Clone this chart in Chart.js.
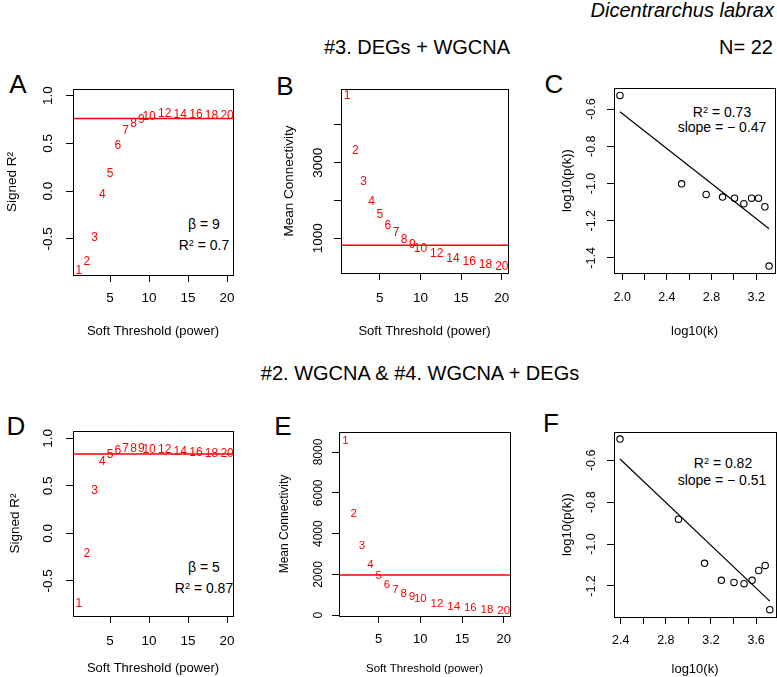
<!DOCTYPE html>
<html>
<head>
<meta charset="utf-8">
<script src="https://cdn.jsdelivr.net/npm/chart.js@4.4.1/dist/chart.umd.min.js"></script>
<style>
  body { margin: 0; background: #fff; }
  #fig { position: relative; width: 777px; height: 677px; overflow: hidden; background: #fff;
         font-family: 'Liberation Sans', Arial, sans-serif; color: #000; }
  #fig canvas { position: absolute; }
  .c { position: absolute; white-space: nowrap; line-height: 1; transform: translate(-50%, -50%); }
  .r { position: absolute; white-space: nowrap; line-height: 1; transform: translateY(-50%); }
  sup { font-size: 0.65em; vertical-align: 0.45em; line-height: 0; }
</style>
</head>
<body>
<div id="fig">
  <div class="r" style="right:3px;top:10px;font-size:20px;font-style:italic">Dicentrarchus labrax</div>
  <div class="c" style="left:417px;top:47px;font-size:20px">#3. DEGs + WGCNA</div>
  <div class="r" style="right:4px;top:47px;font-size:20px">N= 22</div>
  <div class="c" style="left:420px;top:373px;font-size:20px">#2. WGCNA &amp; #4. WGCNA + DEGs</div>

  <div class="c" style="left:18px;top:84px;font-size:26px">A</div>
  <div class="c" style="left:285px;top:86px;font-size:26px">B</div>
  <div class="c" style="left:554px;top:84px;font-size:26px">C</div>
  <div class="c" style="left:16px;top:426px;font-size:26px">D</div>
  <div class="c" style="left:283px;top:426px;font-size:26px">E</div>
  <div class="c" style="left:551px;top:423px;font-size:26px">F</div>

  <div class="c" style="left:204px;top:224px;font-size:14px">β = 9</div>
  <div class="c" style="left:204px;top:245px;font-size:14px">R<sup>2</sup> = 0.7</div>
  <div class="c" style="left:204px;top:567px;font-size:14px">β = 5</div>
  <div class="c" style="left:204px;top:588px;font-size:14px">R<sup>2</sup> = 0.87</div>
  <div class="c" style="left:722px;top:112px;font-size:14px">R<sup>2</sup> = 0.73</div>
  <div class="c" style="left:722px;top:127px;font-size:14px">slope = − 0.47</div>
  <div class="c" style="left:723px;top:463px;font-size:14px">R<sup>2</sup> = 0.82</div>
  <div class="c" style="left:722px;top:480px;font-size:14px">slope = − 0.51</div>
</div>

<script>
// soft-threshold powers tested
const powers = [1, 2, 3, 4, 5, 6, 7, 8, 9, 10, 12, 14, 16, 18, 20];
const powerLabels = ['1', '2', '3', '4', '5', '6', '7', '8', '9', '10', '12', '14', '16', '18', '20'];

// #3. DEGs + WGCNA
const signedR2_3 = [-0.84, -0.74, -0.49, -0.04, 0.18, 0.475, 0.63, 0.71, 0.75, 0.78, 0.815, 0.80, 0.80, 0.79, 0.79];
const meanK_3 = [4769, 3309, 2495, 1965, 1620, 1344, 1142, 965, 832, 734, 585, 460, 380, 310, 257];
const cutR2_3 = 0.76;
const cutK_3 = 815;
const logK_3 = [1.979, 2.532, 2.752, 2.899, 3.006, 3.090, 3.159, 3.221, 3.278, 3.316];
const logPk_3 = [-0.527, -1.002, -1.059, -1.073, -1.079, -1.109, -1.079, -1.079, -1.125, -1.444];
const fitX_3 = [1.979, 3.316];
const fitY_3 = [-0.615, -1.243];

// #2. WGCNA & #4. WGCNA + DEGs
const signedR2_2 = [-0.741, -0.218, 0.445, 0.75, 0.824, 0.869, 0.887, 0.887, 0.887, 0.884, 0.877, 0.859, 0.848, 0.838, 0.835];
const meanK_2 = [8538, 4988, 3389, 2494, 1922, 1516, 1271, 1042, 895, 782, 553, 421, 342, 259, 210];
const cutR2_2 = 0.835;
const cutK_2 = 1970;
const logK_2 = [2.394, 2.912, 3.143, 3.292, 3.404, 3.493, 3.564, 3.623, 3.680, 3.721];
const logPk_2 = [-0.499, -0.881, -1.092, -1.173, -1.183, -1.189, -1.173, -1.126, -1.102, -1.313];
const fitX_2 = [2.394, 3.721];
const fitY_2 = [-0.594, -1.272];

// axis ticks and labels
const powerTicks = [5, 10, 15, 20];
const powerTickLabels = ['5', '10', '15', '20'];
const r2Ticks = [-0.5, 0, 0.5, 1.0];
const r2TickLabels = ['-0.5', '0.0', '0.5', '1.0'];
const kTicksB = [1000, 2000, 3000, 4000];
const kTickLabelsB = ['1000', '', '3000', ''];
const kTicksE = [0, 2000, 4000, 6000, 8000];
const kTickLabelsE = ['0', '2000', '4000', '6000', '8000'];
const logKTicksC = [2.0, 2.2, 2.4, 2.6, 2.8, 3.0, 3.2];
const logKTickLabelsC = ['2.0', '', '2.4', '', '2.8', '', '3.2'];
const logPTicksC = [-1.4, -1.2, -1.0, -0.8, -0.6];
const logPTickLabelsC = ['-1.4', '-1.2', '-1.0', '-0.8', '-0.6'];
const logKTicksF = [2.4, 2.6, 2.8, 3.0, 3.2, 3.4, 3.6];
const logKTickLabelsF = ['2.4', '', '2.8', '', '3.2', '', '3.6'];
const logPTicksF = [-1.2, -1.0, -0.8, -0.6];
const logPTickLabelsF = ['-1.2', '-1.0', '-0.8', '-0.6'];

const FONT = "'Liberation Sans', Arial, sans-serif";
const TL = 7; // tick length
const POW_MIN = 0.24, POW_MAX = 20.76;

const measure = document.createElement('canvas').getContext('2d');
function widest(labels, size) {
  measure.font = size + 'px ' + FONT;
  return Math.max(...labels.map(s => measure.measureText(s).width));
}

// R-style box round the plot region
const boxPlugin = {
  id: 'box',
  afterDraw(chart) {
    const { ctx, chartArea: a } = chart;
    ctx.save();
    ctx.strokeStyle = '#000';
    ctx.lineWidth = 1;
    ctx.strokeRect(Math.round(a.left) + 0.5, Math.round(a.top) + 0.5, Math.round(a.width), Math.round(a.height));
    ctx.restore();
  }
};

// red power numbers drawn at each point
const powerText = {
  id: 'powerText',
  afterDatasetsDraw(chart) {
    const ctx = chart.ctx;
    chart.data.datasets.forEach((ds, i) => {
      if (!ds.powerLabels) return;
      const meta = chart.getDatasetMeta(i);
      ctx.save();
      ctx.fillStyle = '#ff0000';
      ctx.font = ds.labelSize + 'px ' + FONT;
      ctx.textAlign = 'center';
      ctx.textBaseline = 'middle';
      meta.data.forEach((pt, j) => ctx.fillText(ds.powerLabels[j], pt.x, pt.y));
      ctx.restore();
    });
  }
};

function makePanel(p) {
  const [cx, cy, cw, ch] = p.canvas;
  const [l, t, r, b] = p.area;
  const cv = document.createElement('canvas');
  cv.width = cw; cv.height = ch;
  cv.style.left = cx + 'px'; cv.style.top = cy + 'px';
  cv.style.width = cw + 'px'; cv.style.height = ch + 'px';
  document.getElementById('fig').appendChild(cv);

  const yPad = (l - p.y.labelAt) - TL - widest(p.y.labels, p.y.font) / 2;
  const xPad = p.x.labelAt - b - TL - p.x.font * 0.6;
  const grid = { display: true, drawOnChartArea: false, drawTicks: true, tickLength: TL, color: '#000', lineWidth: 1 };

  new Chart(cv, {
    type: 'scatter',
    data: { datasets: p.datasets },
    options: {
      responsive: false,
      animation: false,
      devicePixelRatio: 1,
      layout: { autoPadding: false, padding: { left: 0, top: t - cy, right: cx + cw - r, bottom: 0 } },
      plugins: { legend: { display: false }, tooltip: { enabled: false } },
      scales: {
        x: {
          type: 'linear', min: p.x.min, max: p.x.max, bounds: 'data',
          afterBuildTicks: s => { s.ticks = p.x.ticks.map(v => ({ value: v })); },
          afterFit: s => { s.height = cy + ch - b; s.paddingLeft = 0; s.paddingRight = 0; },
          ticks: { autoSkip: false, minRotation: 0, maxRotation: 0, padding: xPad, color: '#000',
                   font: { family: FONT, size: p.x.font }, callback: (v, i) => p.x.labels[i] },
          grid: grid,
          border: { display: false },
          title: { display: true, text: p.x.title, color: '#000', font: { family: FONT, size: p.x.titleFont },
                   padding: { top: 0, bottom: cy + ch - p.x.titleAt - p.x.titleFont * 0.6 } }
        },
        y: {
          type: 'linear', min: p.y.min, max: p.y.max, bounds: 'data',
          afterBuildTicks: s => { s.ticks = p.y.ticks.map(v => ({ value: v })); },
          afterFit: s => { s.width = l - cx; s.paddingTop = 0; s.paddingBottom = 0; },
          ticks: { autoSkip: false, minRotation: 90, maxRotation: 90, crossAlign: 'center', padding: yPad, color: '#000',
                   font: { family: FONT, size: p.y.font }, callback: (v, i) => p.y.labels[i] },
          grid: grid,
          border: { display: false },
          title: { display: true, text: p.y.title, color: '#000', font: { family: FONT, size: p.y.titleFont },
                   padding: { top: p.y.titleAt - cx - p.y.titleFont * 0.6, bottom: 0 } }
        }
      }
    },
    plugins: [boxPlugin, powerText]
  });
}

function powerSets(values, cut, size) {
  return [
    { data: powers.map((x, i) => ({ x: x, y: values[i] })), pointRadius: 0, showLine: false,
      powerLabels: powerLabels, labelSize: size, clip: false },
    { data: [{ x: POW_MIN, y: cut }, { x: POW_MAX, y: cut }], showLine: true, borderColor: '#ff0000',
      borderWidth: 1.5, pointRadius: 0 }
  ];
}

function scaleFreeSets(xs, ys, fx, fy) {
  return [
    { data: xs.map((x, i) => ({ x: x, y: ys[i] })), showLine: false, pointRadius: 3.2, pointBorderWidth: 1.1,
      pointBorderColor: '#000', pointBackgroundColor: 'rgba(0,0,0,0)', clip: false },
    { data: fx.map((x, i) => ({ x: x, y: fy[i] })), showLine: true, borderColor: '#000', borderWidth: 1.2,
      pointRadius: 0 }
  ];
}

const softTitle = 'Soft Threshold (power)';

// A
makePanel({
  canvas: [0, 80, 250, 265], area: [73, 89, 233, 275],
  x: { min: POW_MIN, max: POW_MAX, ticks: powerTicks, labels: powerTickLabels, font: 13.5, labelAt: 298,
       title: softTitle, titleFont: 13, titleAt: 331 },
  y: { min: -0.88, max: 1.07, ticks: r2Ticks, labels: r2TickLabels, font: 13.5, labelAt: 48,
       title: 'Signed R²', titleFont: 13.5, titleAt: 12 },
  datasets: powerSets(signedR2_3, cutR2_3, 12)
});

// B
makePanel({
  canvas: [262, 80, 258, 265], area: [341, 89, 508, 273],
  x: { min: POW_MIN, max: POW_MAX, ticks: powerTicks, labels: powerTickLabels, font: 13.5, labelAt: 298,
       title: softTitle, titleFont: 13, titleAt: 331 },
  y: { min: 80, max: 4950, ticks: kTicksB, labels: kTickLabelsB, font: 13.5, labelAt: 318,
       title: 'Mean Connectivity', titleFont: 13.5, titleAt: 289 },
  datasets: powerSets(meanK_3, cutK_3, 12)
});

// C
makePanel({
  canvas: [540, 80, 237, 265], area: [614, 88, 775, 273],
  x: { min: 1.926, max: 3.369, ticks: logKTicksC, labels: logKTickLabelsC, font: 12.5, labelAt: 298,
       title: 'log10(k)', titleFont: 13, titleAt: 331 },
  y: { min: -1.481, max: -0.487, ticks: logPTicksC, labels: logPTickLabelsC, font: 12.5, labelAt: 592,
       title: 'log10(p(k))', titleFont: 13, titleAt: 567 },
  datasets: scaleFreeSets(logK_3, logPk_3, fitX_3, fitY_3)
});

// D
makePanel({
  canvas: [0, 420, 250, 257], area: [73, 431, 233, 616],
  x: { min: POW_MIN, max: POW_MAX, ticks: powerTicks, labels: powerTickLabels, font: 13.5, labelAt: 641,
       title: softTitle, titleFont: 13, titleAt: 668 },
  y: { min: -0.87, max: 1.077, ticks: r2Ticks, labels: r2TickLabels, font: 13.5, labelAt: 48,
       title: 'Signed R²', titleFont: 13.5, titleAt: 15 },
  datasets: powerSets(signedR2_2, cutR2_2, 12)
});

// E
makePanel({
  canvas: [262, 420, 258, 257], area: [339, 432, 510, 616],
  x: { min: POW_MIN, max: POW_MAX, ticks: powerTicks, labels: powerTickLabels, font: 13, labelAt: 639,
       title: softTitle, titleFont: 11.5, titleAt: 669 },
  y: { min: -35, max: 8980, ticks: kTicksE, labels: kTickLabelsE, font: 12, labelAt: 319,
       title: 'Mean Connectivity', titleFont: 12, titleAt: 285 },
  datasets: powerSets(meanK_2, cutK_2, 11.5)
});

// F
makePanel({
  canvas: [540, 420, 237, 257], area: [614, 432, 776, 617],
  x: { min: 2.341, max: 3.776, ticks: logKTicksF, labels: logKTickLabelsF, font: 12.5, labelAt: 641,
       title: 'log10(k)', titleFont: 13, titleAt: 669 },
  y: { min: -1.348, max: -0.465, ticks: logPTicksF, labels: logPTickLabelsF, font: 12.5, labelAt: 592,
       title: 'log10(p(k))', titleFont: 13, titleAt: 567 },
  datasets: scaleFreeSets(logK_2, logPk_2, fitX_2, fitY_2)
});
</script>
</body>
</html>
